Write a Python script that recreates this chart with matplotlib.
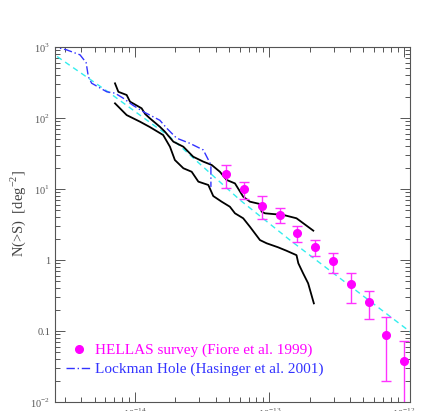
import matplotlib
matplotlib.use('Agg')
import matplotlib.pyplot as plt
from matplotlib.lines import Line2D
from matplotlib.ticker import FixedLocator, LogLocator, NullFormatter

plt.rcParams['font.family'] = ['Liberation Serif', 'DejaVu Serif']
plt.rcParams['mathtext.fontset'] = 'custom'
plt.rcParams['mathtext.rm'] = 'Liberation Serif'

# HELLAS survey points (flux, N(>S), upper and lower error bounds)
hellas_s = [4.75e-14, 6.46e-14, 8.8e-14, 1.19e-13, 1.61e-13, 2.18e-13,
            2.97e-13, 4.03e-13, 5.47e-13, 7.39e-13, 1.0e-12]
hellas_n = [16.3, 10.0, 5.8, 4.35, 2.40, 1.54, 0.96, 0.455, 0.259, 0.0887, 0.0374]
hellas_hi = [22.0, 12.6, 7.9, 5.46, 3.04, 1.93, 1.27, 0.66, 0.366, 0.159, 0.073]
hellas_lo = [10.3, 7.3, 3.74, 3.32, 1.77, 1.14, 0.66, 0.245, 0.146, 0.0198, 0.005]

# Lockman Hole (Hasinger et al. 2001)
lockman_s = [2.3e-15, 2.54e-15, 3.10e-15, 3.90e-15, 4.33e-15, 4.50e-15, 4.76e-15,
             6.17e-15, 7.10e-15, 8.15e-15, 9.66e-15, 1.15e-14, 1.29e-14, 1.53e-14,
             1.72e-14, 2.04e-14, 2.56e-14, 3.22e-14, 3.67e-14, 3.67e-14]
lockman_n = [1050, 1000, 912, 776, 603, 380, 309, 234, 224, 191, 151, 123, 110, 93,
             72, 52, 44, 35.5, 21.9, 10.7]

# model curve (cyan dashed)
model_s = [2.3e-15, 2.54e-15, 6.30e-15, 1.82e-14, 6.04e-14, 1.42e-13, 1.11e-12, 1.3e-12]
model_n = [880, 771, 234, 54, 7.0, 1.91, 0.098, 0.075]

# upper black curve
upper_s = [7.10e-15, 7.52e-15, 8.67e-15, 9.18e-15, 1.12e-14, 1.19e-14, 1.29e-14,
           1.53e-14, 1.67e-14, 1.93e-14, 2.29e-14, 2.71e-14, 3.22e-14, 3.72e-14,
           4.28e-14, 4.81e-14, 5.54e-14, 6.38e-14, 7.16e-14, 8.50e-14, 8.75e-14,
           9.26e-14, 1.27e-13, 1.59e-13, 2.12e-13]
upper_n = [308, 234, 211, 170, 137, 114, 99, 75.4, 64.1, 46.4, 39.4, 28.5, 24.3,
           21.8, 17.5, 13.4, 12.0, 7.80, 6.63, 6.15, 4.79, 4.55, 4.31, 3.87, 2.59]

# lower black curve
lower_s = [7.10e-15, 8.67e-15, 1.09e-14, 1.29e-14, 1.62e-14, 1.82e-14, 1.98e-14,
           2.29e-14, 2.64e-14, 2.96e-14, 3.51e-14, 3.82e-14, 4.41e-14, 5.08e-14,
           5.54e-14, 6.38e-14, 7.16e-14, 8.50e-14, 9.53e-14, 1.16e-13, 1.34e-13,
           1.59e-13, 1.64e-13, 1.78e-13, 1.94e-13, 2.14e-13]
lower_n = [161, 110, 88.7, 74.6, 57.6, 39.4, 25.6, 19.6, 17.5, 12.7, 11.4, 7.96,
           6.63, 5.63, 4.55, 3.87, 2.94, 1.91, 1.72, 1.51, 1.35, 1.17, 0.90, 0.65,
           0.47, 0.245]

yticks = [1e-2, 0.1, 1, 10, 100, 1000]
ylabels = ['10$^{-2}$', '0.1', '1', '10$^{1}$', '10$^{2}$', '10$^{3}$']
xticks = [1e-14, 1e-13, 1e-12]
xlabels = ['10$^{-14}$', '10$^{-13}$', '10$^{-12}$']

fig = plt.figure(figsize=(4.36, 4.11), dpi=100)
ax = fig.add_axes([0.1261, 0.0219, 0.8142, 0.8637])

ax.plot(model_s, model_n, color='#33eeee', lw=1.0, ls=(0, (4, 3)))
ax.plot(upper_s, upper_n, color='black', lw=1.3)
ax.plot(lower_s, lower_n, color='black', lw=1.3)
ax.plot(lockman_s, lockman_n, color='#3333ff', lw=1.0, ls=(0, (6, 2, 1, 2)))

err_lo = [n - lo for n, lo in zip(hellas_n, hellas_lo)]
err_hi = [hi - n for n, hi in zip(hellas_n, hellas_hi)]
ax.errorbar(hellas_s, hellas_n, yerr=[err_lo, err_hi], fmt='o', color='magenta',
            ecolor='#ff33ff', elinewidth=1.0, capsize=3.5, capthick=1.0, ms=5.5)

ax.set_xscale('log')
ax.set_yscale('log')
ax.set_xlim(2.54e-15, 1.11e-12)
ax.set_ylim(1e-2, 1e3)

ax.yaxis.set_major_locator(FixedLocator(yticks))
ax.set_yticklabels(ylabels)
ax.xaxis.set_major_locator(FixedLocator(xticks))
ax.set_xticklabels(xlabels)
ax.xaxis.set_minor_locator(LogLocator(base=10, subs=range(2, 10)))
ax.yaxis.set_minor_locator(LogLocator(base=10, subs=range(2, 10)))
ax.xaxis.set_minor_formatter(NullFormatter())
ax.yaxis.set_minor_formatter(NullFormatter())

ax.tick_params(which='both', direction='in', top=True, right=True,
               colors='#555555', labelsize=7.5, width=0.7)
ax.tick_params(which='major', length=7)
ax.tick_params(which='minor', length=3.5)
for sp in ax.spines.values():
    sp.set_color('#555555')
    sp.set_linewidth(0.8)

ax.set_ylabel('N(>S)  [deg$^{-2}$]', fontsize=10.5, color='#444444')
ax.yaxis.set_label_coords(-0.075, 0.53)

# legend with plain handles: dot for HELLAS, dash-dot for Lockman
handles = [Line2D([], [], ls='none', marker='o', color='magenta', ms=5.5),
           Line2D([], [], color='#3333ff', lw=1.0, ls=(0, (6, 2, 1, 2)))]
labels = ['HELLAS survey (Fiore et al. 1999)', 'Lockman Hole (Hasinger et al. 2001)']
leg = ax.legend(handles, labels, loc='lower left', frameon=False,
                fontsize=11, handlelength=1.7, handletextpad=0.2,
                borderaxespad=0.0, labelspacing=0.35, bbox_to_anchor=(0.015, 0.055))
for txt, c in zip(leg.get_texts(), ['magenta', '#3333ff']):
    txt.set_color(c)

fig.savefig('out.png', dpi=100)
